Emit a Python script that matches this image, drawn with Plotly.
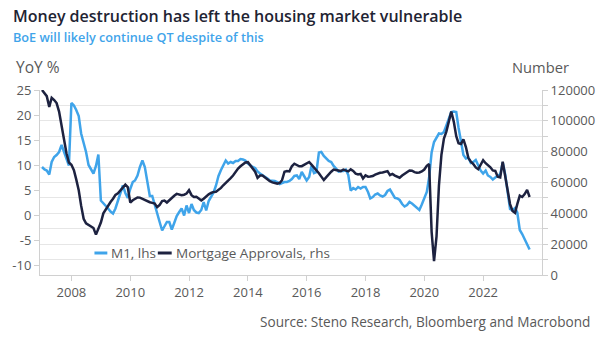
import plotly.graph_objects as go
import pandas as pd

# ---------------- data ----------------
dates = pd.date_range("2007-01-01", periods=200, freq="MS")

m1_yoy = [
    # 2007
    9.6, 9.1, 8.9, 8.1, 10.6, 11.6, 12.0, 12.6, 14.0, 12.5, 11.0, 9.9,
    # 2008
    22.4, 21.9, 21.0, 19.8, 16.3, 14.6, 12.6, 10.0, 9.0, 8.3, 9.8, 12.1,
    # 2009
    2.9, 2.4, 1.8, 1.3, 0.7, 0.3, 1.3, 2.8, 4.3, 5.9, 4.4, 3.4,
    # 2010
    5.2, 6.6, 6.9, 7.9, 9.6, 10.9, 9.6, 7.0, 3.8, 3.8, 1.9, 0.0,
    # 2011
    -1.4, -3.1, -2.4, -1.4, -1.4, -2.9, -1.6, -0.2, 0.6, 1.3, -0.1, 1.9,
    # 2012
    0.4, 2.2, 1.0, 0.5, 0.4, 1.0, 2.6, 0.9, 2.8, 3.7, 4.5, 5.9,
    # 2013
    7.8, 9.0, 10.0, 10.9, 10.3, 10.6, 10.4, 10.8, 10.8, 11.2, 11.1, 10.9,
    # 2014
    10.3, 9.9, 9.6, 9.4, 8.7, 8.3, 8.0, 7.6, 7.3, 6.9, 6.9, 6.8,
    # 2015
    6.6, 6.2, 6.4, 6.6, 6.6, 6.8, 7.2, 7.8, 7.9, 7.2, 8.6, 7.8,
    # 2016
    6.9, 7.6, 9.8, 8.4, 8.6, 12.5, 12.6, 11.8, 11.3, 10.8, 10.6, 9.8,
    # 2017
    9.3, 8.7, 8.8, 8.8, 9.1, 8.0, 4.9, 5.4, 5.1, 5.6, 5.3, 5.6,
    # 2018
    5.6, 4.6, 3.3, 3.6, 4.1, 4.3, 3.9, 3.7, 4.0, 4.8, 5.1, 4.1,
    # 2019
    3.4, 3.3, 3.0, 2.2, 1.7, 2.0, 2.6, 2.3, 1.8, 1.3, 1.0, 2.1,
    # 2020
    3.2, 4.6, 7.5, 12.5, 14.6, 15.5, 16.3, 16.2, 16.6, 17.9, 19.5, 20.6,
    # 2021
    20.7, 20.6, 17.5, 14.5, 12.0, 11.3, 11.5, 10.4, 10.6, 11.0, 9.9, 8.9,
    # 2022
    8.3, 8.9, 7.9, 7.6, 7.1, 7.6, 7.9, 8.1, 10.5, 8.2, 4.0, 1.2,
    # 2023
    0.9, 1.4, 0.5, -3.0, -3.8, -4.8, -5.9, -6.9,
]

mortgage_thousands = [
    # 2007
    120, 118, 116, 109, 115, 113.5, 111.5, 106, 98, 88, 79, 73,
    # 2008
    71.5, 68, 62, 55, 45, 36.5, 33.5, 32.5, 31.5, 30.5, 26.2, 30.5,
    # 2009
    34, 40, 42.5, 45, 47.3, 49.5, 52, 53, 55, 56.8, 58.6, 57,
    # 2010
    47, 48.5, 49.5, 50.3, 50.2, 49.4, 48.5, 47.7, 47.2, 46.8, 46.3, 44,
    # 2011
    45.5, 48, 48.3, 47, 48.5, 50.4, 51.4, 52.6, 52.3, 51.8, 52.1, 52.8,
    # 2012
    55, 51.8, 50.6, 50.8, 49.6, 48.4, 49.5, 51.2, 52.3, 53.2, 53.9, 54,
    # 2013
    55, 56.5, 58.2, 59.6, 61.3, 62.8, 64.5, 67, 69, 70.5, 72, 73,
    # 2014
    73.2, 71.2, 69, 67, 63, 64.5, 64.5, 63.2, 61.6, 60.8, 60.1, 59.8,
    # 2015
    59.3, 59.8, 61.5, 67, 67.5, 67.2, 70.5, 72.2, 71.6, 70.5, 70.6, 71.6,
    # 2016
    72.5, 73.3, 71.6, 69.8, 67.8, 66, 63.8, 61.6, 63.5, 65.5, 67, 68.4,
    # 2017
    68.2, 67.8, 67.4, 68.4, 67.6, 67.2, 68.5, 67.5, 65.8, 65.2, 65.6, 62.6,
    # 2018
    64.6, 63.8, 63.9, 64.2, 65.1, 65.9, 66.3, 66.5, 66.8, 67.4, 64.8, 65.6,
    # 2019
    64.5, 64.0, 63.1, 64.5, 65.5, 66.5, 67.8, 67.6, 66.7, 66.4, 66.5, 67.2,
    # 2020
    68.4, 70.8, 72, 28, 9, 25, 58, 78, 88.5, 93, 100, 106,
    # 2021
    99.5, 90, 85.5, 85, 88, 83, 76, 73.5, 72, 69.8, 68.6, 71.2,
    # 2022
    74.5, 72.5, 71.2, 69.9, 67.8, 67.5, 63.8, 63.3, 73.5, 64, 55, 46,
    # 2023
    41.5, 40.3, 46, 51.5, 50.6, 52.5, 55.2, 50.6,
]
mortgage = [v * 1000 for v in mortgage_thousands]

left_tickvals = [-10, -5, 0, 5, 10, 15, 20, 25]
left_ticktext = ["-10", "-5", "0", "5", "10", "15", "20", "25"]
right_tickvals = [0, 20000, 40000, 60000, 80000, 100000, 120000]
right_ticktext = ["0", "20000", "40000", "60000", "80000", "100000", "120000"]
year_ticks = ["2008-01-01", "2010-01-01", "2012-01-01", "2014-01-01",
              "2016-01-01", "2018-01-01", "2020-01-01", "2022-01-01"]
year_labels = ["2008", "2010", "2012", "2014", "2016", "2018", "2020", "2022"]

series_names = ["M1, lhs", "Mortgage Approvals, rhs"]

# ---------------- styles ----------------
FONT = "Open Sans"
C_M1 = "#3FA4EA"
C_MORT = "#1D2240"
C_TEXT = "#595959"
C_GRID = "#E6E6E6"
C_AXIS = "#D0D0D0"

fig = go.Figure()
fig.add_trace(go.Scatter(x=dates, y=m1_yoy, mode="lines", name=series_names[0],
                         line=dict(color=C_M1, width=2.5), yaxis="y", showlegend=False))
fig.add_trace(go.Scatter(x=dates, y=mortgage, mode="lines", name=series_names[1],
                         line=dict(color=C_MORT, width=2.5), yaxis="y2", showlegend=False))

L, R, T, B = 38, 62, 90, 63
W, H = 607, 338
PW, PH = W - L - R, H - T - B


def px(xp):
    return (xp - L) / PW


def py(yp):
    return (H - B - yp) / PH


fig.update_layout(
    width=W, height=H,
    margin=dict(l=L, r=R, t=T, b=B, pad=0),
    paper_bgcolor="white", plot_bgcolor="white",
    font=dict(family=FONT, color=C_TEXT, size=13),
    showlegend=False,
    xaxis=dict(
        type="date", range=["2006-12-07", "2024-01-02"],
        tickvals=year_ticks, ticktext=year_labels,
        showgrid=False, showline=True, linecolor=C_AXIS, linewidth=1,
        ticks="outside", ticklen=5, tickcolor=C_AXIS,
        tickfont=dict(size=13, color=C_TEXT), zeroline=False,
    ),
    yaxis=dict(
        range=[-12, 25], tickvals=left_tickvals, ticktext=left_ticktext,
        showgrid=False, showline=True, linecolor=C_AXIS, linewidth=1,
        ticks="outside", ticklen=5, tickcolor=C_AXIS, zeroline=False,
        tickfont=dict(size=13, color=C_TEXT),
    ),
    yaxis2=dict(
        overlaying="y", side="right",
        range=[0, 120000], tickvals=right_tickvals, ticktext=right_ticktext,
        showgrid=True, gridcolor=C_GRID, gridwidth=1,
        showline=True, linecolor=C_AXIS, linewidth=1,
        ticks="outside", ticklen=5, tickcolor=C_AXIS, zeroline=False,
        tickfont=dict(size=13, color=C_TEXT),
        minor=dict(dtick=10000, tick0=0, showgrid=True, gridcolor=C_GRID,
                   ticks="outside", ticklen=5, tickcolor=C_AXIS),
    ),
)

ann = []
ann.append(dict(text="Money destruction has left the housing market vulnerable",
                x=px(9), y=py(16), xref="paper", yref="paper",
                xanchor="left", yanchor="middle", showarrow=False,
                font=dict(family=FONT, size=16, color="#1F2433", weight=600)))
ann.append(dict(text="BoE will likely continue QT despite of this",
                x=px(9), y=py(37), xref="paper", yref="paper",
                xanchor="left", yanchor="middle", showarrow=False,
                font=dict(family=FONT, size=12.7, color="#3FA4EA", weight=600)))
ann.append(dict(text="YoY %", x=px(12), y=py(67), xref="paper", yref="paper",
                xanchor="left", yanchor="middle", showarrow=False,
                font=dict(family=FONT, size=15.5, color=C_TEXT)))
ann.append(dict(text="Number", x=px(574), y=py(67), xref="paper", yref="paper",
                xanchor="right", yanchor="middle", showarrow=False,
                font=dict(family=FONT, size=14.7, color=C_TEXT)))
ann.append(dict(text="Source: Steno Research, Bloomberg and Macrobond",
                x=px(595), y=py(321), xref="paper", yref="paper",
                xanchor="right", yanchor="middle", showarrow=False,
                font=dict(family=FONT, size=13.6, color=C_TEXT)))
# legend (drawn manually to get the short line keys)
ann.append(dict(text=series_names[0], x=px(108), y=py(253), xref="paper", yref="paper",
                xanchor="left", yanchor="middle", showarrow=False,
                font=dict(family=FONT, size=13.5, color=C_TEXT)))
ann.append(dict(text=series_names[1], x=px(173), y=py(253), xref="paper", yref="paper",
                xanchor="left", yanchor="middle", showarrow=False,
                font=dict(family=FONT, size=13.5, color=C_TEXT)))
fig.update_layout(annotations=ann)

fig.add_shape(type="line", xref="paper", yref="paper",
              x0=px(93), x1=px(106), y0=py(253), y1=py(253),
              line=dict(color=C_M1, width=3))
fig.add_shape(type="line", xref="paper", yref="paper",
              x0=px(157), x1=px(171), y0=py(253), y1=py(253),
              line=dict(color=C_MORT, width=3))

fig.write_html("out.html")
